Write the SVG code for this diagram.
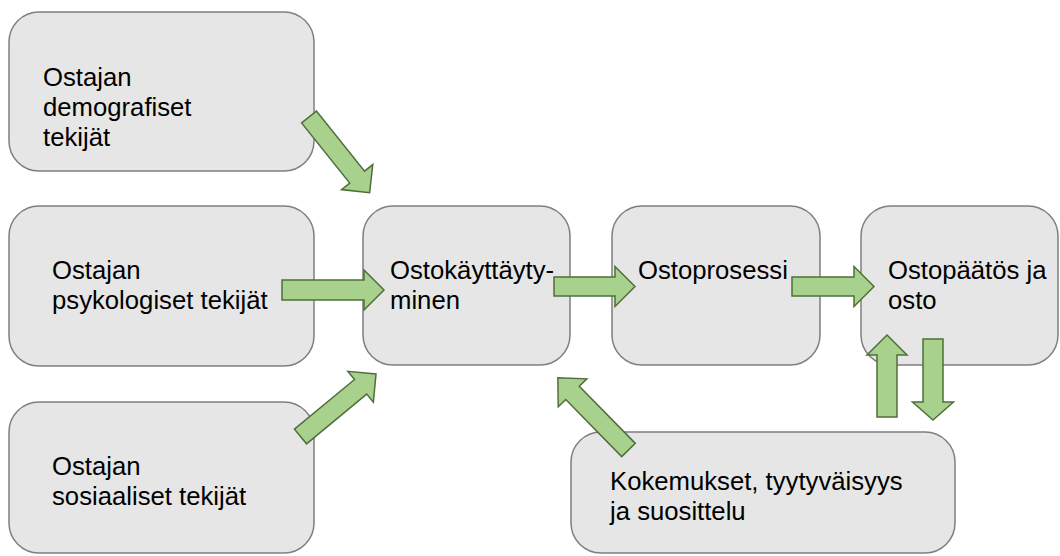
<svg xmlns="http://www.w3.org/2000/svg" width="1060" height="556" viewBox="0 0 1060 556">
<defs>
<style>
.box{fill:#e7e6e6;stroke:#7f7f7f;stroke-width:1.5}
.lbl{font-family:"Liberation Sans",Arial,sans-serif;font-size:25.7px;fill:#000}
.arr{fill:#a9d18e;stroke:#4f6f3a;stroke-width:1.5;stroke-linejoin:miter}
</style>
</defs>
<rect width="1060" height="556" fill="#fff"/>
<g id="n-demografiset">
<rect class="box" x="9" y="12" width="305" height="159" rx="30"/>
<text class="lbl" x="43" y="86">Ostajan</text>
<text class="lbl" x="43" y="116">demografiset</text>
<text class="lbl" x="43" y="146">tekijät</text>
</g>
<g id="n-psykologiset">
<rect class="box" x="9" y="206" width="305" height="160" rx="30"/>
<text class="lbl" x="52" y="279">Ostajan</text>
<text class="lbl" x="52" y="309">psykologiset tekijät</text>
</g>
<g id="n-sosiaaliset">
<rect class="box" x="9" y="402" width="305" height="151" rx="30"/>
<text class="lbl" x="52" y="475">Ostajan</text>
<text class="lbl" x="52" y="505">sosiaaliset tekijät</text>
</g>
<g id="n-ostokayttaytyminen">
<rect class="box" x="363" y="206" width="207" height="159" rx="30"/>
<text class="lbl" x="390" y="279">Ostokäyttäyty-</text>
<text class="lbl" x="390" y="309">minen</text>
</g>
<g id="n-ostoprosessi">
<rect class="box" x="612" y="206" width="208" height="159" rx="30"/>
<text class="lbl" x="638" y="279">Ostoprosessi</text>
</g>
<g id="n-ostopaatos">
<rect class="box" x="861" y="206" width="197" height="159" rx="30"/>
<text class="lbl" x="888" y="279">Ostopäätös ja</text>
<text class="lbl" x="888" y="309">osto</text>
</g>
<g id="n-kokemukset">
<rect class="box" x="571" y="432" width="384" height="121" rx="30"/>
<text class="lbl" x="610" y="490">Kokemukset, tyytyväisyys</text>
<text class="lbl" x="610" y="520">ja suosittelu</text>
</g>
<g id="connectors">
<polygon class="arr" transform="translate(309,117) rotate(51.3)" points="0,-9.5 77,-9.5 77,-20 97,0 77,20 77,9.5 0,9.5"/>
<polygon class="arr" transform="translate(282,290)" points="0,-10 82,-10 82,-20 102,0 82,20 82,10 0,10"/>
<polygon class="arr" transform="translate(300.5,436.5) rotate(-39.6)" points="0,-9.5 78,-9.5 78,-20 98,0 78,20 78,9.5 0,9.5"/>
<polygon class="arr" transform="translate(554,286.5)" points="0,-9.5 61,-9.5 61,-20 81,0 61,20 61,9.5 0,9.5"/>
<polygon class="arr" transform="translate(792,286.5)" points="0,-9.5 62,-9.5 62,-20 82,0 62,20 62,9.5 0,9.5"/>
<polygon class="arr" transform="translate(628.5,450) rotate(-134.4)" points="0,-9.5 80,-9.5 80,-20 101,0 80,20 80,9.5 0,9.5"/>
<polygon class="arr" transform="translate(887,417) rotate(-90)" points="0,-10 62,-10 62,-20 82,0 62,20 62,10 0,10"/>
<polygon class="arr" transform="translate(933,339) rotate(90)" points="0,-10 63,-10 63,-20.5 81,0 63,20.5 63,10 0,10"/>
</g>
</svg>
